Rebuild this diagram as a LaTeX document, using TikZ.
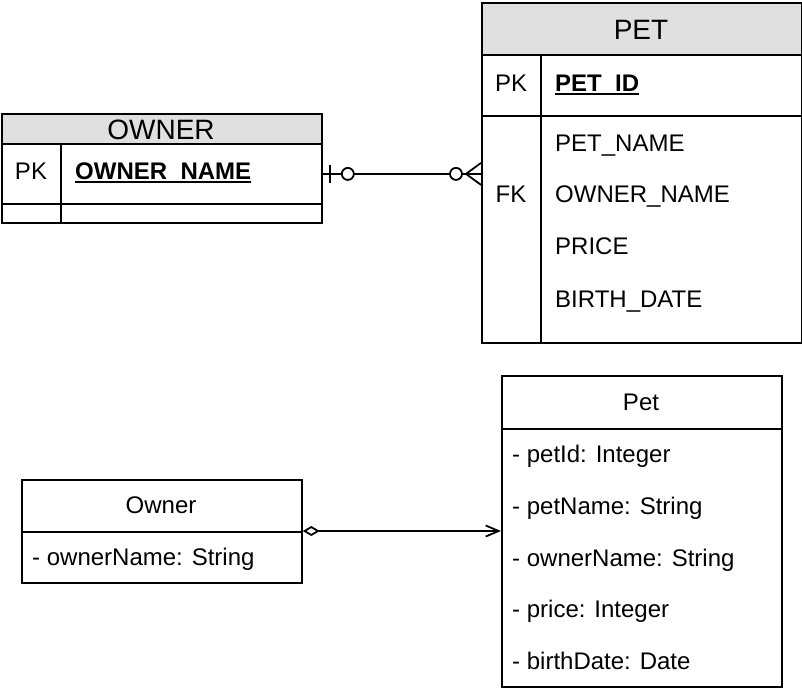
\documentclass[tikz,border=0pt]{standalone}
\usepackage{fontspec}
\setmainfont{Liberation Sans}
\usetikzlibrary{arrows.meta,calc}
\definecolor{hdrgray}{RGB}{224,224,224}
\newcommand\myulbox[1]{\setbox0\hbox{#1}\rlap{\rule[-2.6pt]{\wd0}{1.5pt}}\box0}
\begin{document}
\begin{tikzpicture}[x=1pt,y=-1pt,
  ln/.style={line width=1.8pt, line join=miter},
  box/.style={draw, ln, inner sep=0pt, anchor=north west},
  hdr/.style={box, fill=hdrgray},
  txt/.style={inner sep=0pt, font=\fontsize{24}{28}\selectfont, anchor=base west},
  ctxt/.style={txt, anchor=base},
  htxt/.style={inner sep=0pt, font=\fontsize{28}{32}\selectfont, anchor=base}]
\useasboundingbox (0,0) rectangle (802,692);
% ---------- ER: OWNER ----------
\node[hdr, minimum width=320pt, minimum height=30pt] (ownerH) at (1,113) {};
\node[box, minimum width=320pt, minimum height=60pt] (ownerPK) at (1,143) {};
\node[box, minimum width=320pt, minimum height=19pt] (ownerE) at (1,203) {};
\draw[ln] ($(ownerPK.north west)+(60,0)$) -- ($(ownerE.south west)+(60,0)$);
\node[htxt] (ownerT) at (161,140) {OWNER};
\node[ctxt] (ownerPKl) at (31,180) {PK};
\node[txt] (ownerPKn) at (75,180) {\myulbox{\textbf{OWNER\_NAME}}};
% ---------- ER: PET ----------
\node[hdr, minimum width=320pt, minimum height=52pt] (petH) at (481,2) {};
\node[box, minimum width=320pt, minimum height=61pt] (petPK) at (481,54) {};
\node[box, minimum width=320pt, minimum height=227pt] (petB) at (481,115) {};
\draw[ln] ($(petPK.north west)+(60,0)$) -- ($(petB.south west)+(60,0)$);
\node[htxt] (petT) at (641,40) {PET};
\node[ctxt] (petPKl) at (511,92) {PK};
\node[txt] (petPKn) at (555,92) {\myulbox{\textbf{PET\_ID}}};
\node[txt] (petR1) at (555,152) {PET\_NAME};
\node[txt] (petR2) at (555,203) {OWNER\_NAME};
\node[txt] (petR3) at (555,255) {PRICE};
\node[txt] (petR4) at (555,307) {BIRTH\_DATE};
\node[ctxt] (petFK) at (511,203) {FK};
% ---------- ER connector ----------
\coordinate (cfR) at (petB.west |- ownerPK.east);
\draw[ln] (ownerPK.east) -- (cfR);
\draw[ln] ($(ownerPK.east)+(7,-9)$) -- ($(ownerPK.east)+(7,9)$);
\draw[ln, fill=white] ($(ownerPK.east)+(25,0)$) circle (6pt);
\draw[ln, fill=white] ($(cfR)+(-25,0)$) circle (6pt);
\draw[ln] ($(cfR)+(0,-11)$) -- ($(cfR)+(-15,0)$) -- ($(cfR)+(0,11)$);
% ---------- UML: Owner ----------
\node[box, minimum width=280pt, minimum height=52pt] (ownerCH) at (21,479) {};
\node[box, minimum width=280pt, minimum height=51pt] (ownerCB) at (21,531) {};
\node[ctxt] (ownerCT) at (161,513) {Owner};
\node[txt] (ownerA1) at (32,565) {- ownerName: String};
% ---------- UML: Pet ----------
\node[box, minimum width=280pt, minimum height=53pt] (petCH) at (501,375) {};
\node[box, minimum width=280pt, minimum height=258pt] (petCB) at (501,428) {};
\node[ctxt] (petCT) at (641,410) {Pet};
\node[txt] (petA1) at (512,462) {- petId: Integer};
\node[txt] (petA2) at (512,514) {- petName: String};
\node[txt] (petA3) at (512,566) {- ownerName: String};
\node[txt] (petA4) at (512,617) {- price: Integer};
\node[txt] (petA5) at (512,669) {- birthDate: Date};
% ---------- UML connector ----------
\draw[ln, {Diamond[open,length=17pt,width=10pt]}-{Straight Barb[length=13pt,width=11pt]}]
  (ownerCB.north east) -- (petCB.west |- ownerCB.north east);
\end{tikzpicture}
\end{document}
